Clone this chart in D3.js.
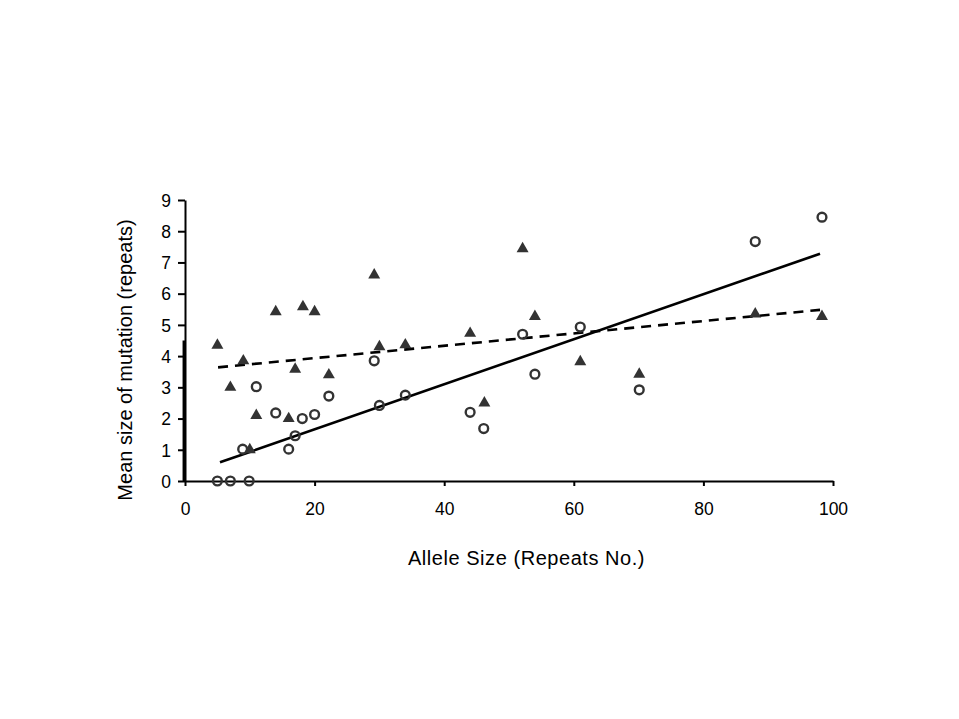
<!DOCTYPE html>
<html>
<head>
<meta charset="utf-8">
<script src="https://cdn.jsdelivr.net/npm/d3@7"></script>
<style>
  html, body { margin: 0; padding: 0; background: #fff; }
  svg { display: block; }
  text { font-family: "Liberation Sans", Arial, sans-serif; fill: #000; }
</style>
</head>
<body>
<svg id="chart" width="959" height="719"></svg>
<script>
// ---- data ----
const triangleX = [5, 7, 9, 10, 11, 14, 16, 17, 18.2, 20, 22.2, 29.2, 30, 34, 44, 46.2, 52.1, 54, 61, 70.1, 88, 98.3];
const triangleY = [4.35, 3.0, 3.85, 1.0, 2.1, 5.42, 2.0, 3.58, 5.58, 5.42, 3.4, 6.6, 4.3, 4.36, 4.73, 2.5, 7.44, 5.27, 3.82, 3.42, 5.35, 5.27];

const circleX = [5, 7, 9.9, 8.9, 11, 14, 16, 17, 18.1, 20, 22.2, 29.2, 30, 34, 44, 46.1, 52.1, 54, 61, 70.1, 88, 98.3];
const circleY = [0, 0, 0, 1.02, 3.02, 2.18, 1.02, 1.45, 2.0, 2.13, 2.72, 3.85, 2.42, 2.75, 2.2, 1.68, 4.7, 3.42, 4.93, 2.92, 7.67, 8.45];

// trend lines (end points)
const solidTrend = [[5.4, 0.6], [98, 7.28]];
const dashedTrend = [[5.1, 3.64], [98, 5.48]];

const xTicks = [0, 20, 40, 60, 80, 100];
const yTicks = [0, 1, 2, 3, 4, 5, 6, 7, 8, 9];
const xTitle = "Allele Size (Repeats No.)";
const yTitle = "Mean size of mutation (repeats)";

// ---- drawing ----
const svg = d3.select("#chart");
const x = d3.scaleLinear().domain([0, 100]).range([185, 833]);
const y = d3.scaleLinear().domain([0, 9]).range([481, 200]);

const markColor = "#333333";

// slight doubled segment on lower y axis, as in the reference
svg.append("line")
  .attr("x1", x(0) - 1.2).attr("x2", x(0) - 1.2)
  .attr("y1", y(0)).attr("y2", y(4.5))
  .attr("stroke", "#000").attr("stroke-width", 2.5);

// axes
const xAxis = svg.append("g")
  .attr("transform", `translate(0,${y(0)})`)
  .call(d3.axisBottom(x).tickValues(xTicks).tickSize(5).tickSizeOuter(0).tickPadding(17).tickFormat(d3.format("d")));
const yAxis = svg.append("g")
  .attr("transform", `translate(${x(0)},0)`)
  .call(d3.axisLeft(y).tickValues(yTicks).tickSize(7).tickSizeOuter(0).tickPadding(7).tickFormat(d3.format("d")));

[xAxis, yAxis].forEach(g => {
  g.select(".domain").attr("stroke", "#000").attr("stroke-width", 2);
  g.selectAll(".tick line").attr("stroke", "#000").attr("stroke-width", 2);
  g.selectAll(".tick text").style("font-size", "17.5px").attr("fill", "#000")
    .style("font-family", '"Liberation Sans", Arial, sans-serif');
});
yAxis.selectAll(".tick text").attr("dy", "0.36em");

// trend lines
const line = d3.line().x(d => x(d[0])).y(d => y(d[1]));
svg.append("path").datum(dashedTrend).attr("d", line)
  .attr("fill", "none").attr("stroke", "#000").attr("stroke-width", 2.6)
  .attr("stroke-dasharray", "10,7");
svg.append("path").datum(solidTrend).attr("d", line)
  .attr("fill", "none").attr("stroke", "#000").attr("stroke-width", 2.6);

// triangles
const tri = d3.symbol().type(d3.symbolTriangle).size(62);
svg.append("g").selectAll("path")
  .data(triangleX.map((v, i) => [v, triangleY[i]]))
  .join("path")
  .attr("d", tri)
  .attr("transform", d => `translate(${x(d[0])},${y(d[1])})`)
  .attr("fill", markColor);

// circles
svg.append("g").selectAll("circle")
  .data(circleX.map((v, i) => [v, circleY[i]]))
  .join("circle")
  .attr("cx", d => x(d[0])).attr("cy", d => y(d[1]))
  .attr("r", 4.4)
  .attr("fill", "none")
  .attr("stroke", markColor).attr("stroke-width", 2.4);

// titles
svg.append("text")
  .attr("x", 526.5).attr("y", 565)
  .attr("text-anchor", "middle")
  .style("font-size", "20px").style("letter-spacing", "0.55px")
  .text(xTitle);

svg.append("text")
  .attr("transform", `translate(132,360) rotate(-90)`)
  .attr("text-anchor", "middle")
  .style("font-size", "20px")
  .text(yTitle);
</script>
</body>
</html>
